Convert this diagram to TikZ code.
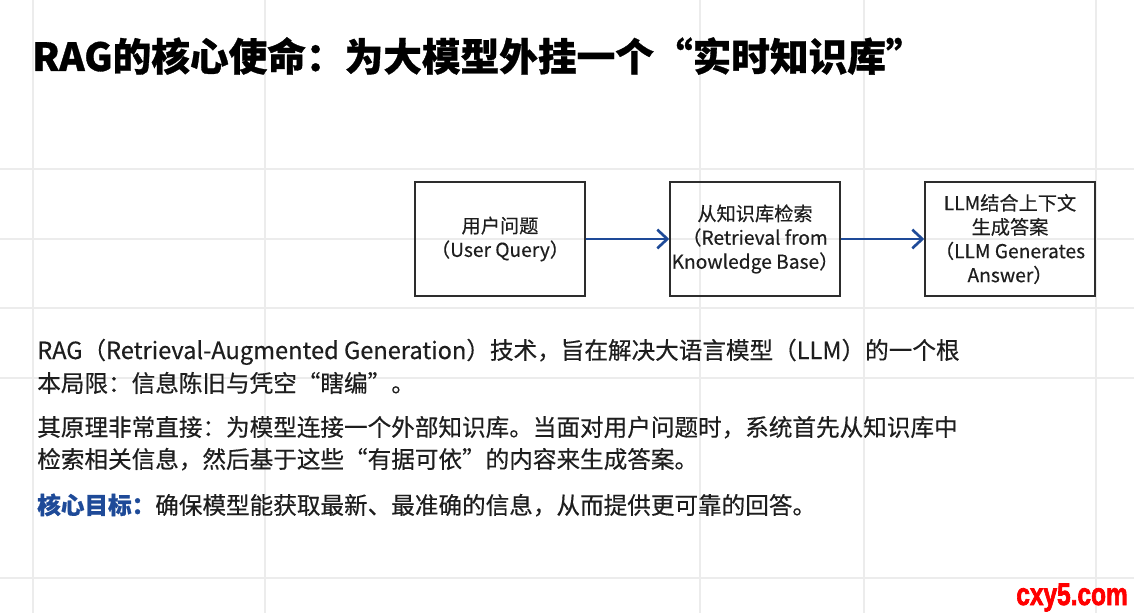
\documentclass[tikz,border=0pt]{standalone}
\usepackage{fontspec}
\setmainfont{Noto Sans CJK SC}[UprightFeatures={FakeBold=0.4},BoldFeatures={FakeBold=0.8}]
\newfontfamily\wmfont[BoldFeatures={FakeBold=2.5}]{Liberation Sans}
\usetikzlibrary{arrows.meta}
\definecolor{flowblue}{RGB}{30,74,152}
\definecolor{gridgray}{RGB}{236,236,236}
\definecolor{bodytext}{RGB}{30,30,30}
\definecolor{wmred}{RGB}{255,0,0}
\tikzset{
  gridline/.style={draw=gridgray,line width=1.1pt},
  stepbox/.style={draw={rgb,255:red,45;green,45;blue,45},line width=1.1pt,minimum width=127.5pt,minimum height=85.5pt,
    align=center,inner sep=0pt,text=bodytext,font=\fontsize{14.4}{18}\selectfont},
  flow/.style={draw=flowblue,line width=2pt,-{Straight Barb[length=7.5pt,width=14pt]}},
  bodyline/.style={anchor=base west,inner sep=0pt,text=bodytext,font=\fontsize{17.7}{22}\selectfont}
}
\begin{document}
\begin{tikzpicture}[x=0.75pt,y=0.75pt,yscale=-1]
%set diagram size to the reference
\useasboundingbox[fill=white] (0,0) rectangle (1134,613);

%Shape: Grid
\foreach \gx in {33,265,700,864,1096} \draw[gridline] (\gx,0) -- (\gx,613);
\foreach \gy in {169,239,308,378,578} \draw[gridline] (0,\gy) -- (1134,\gy);

% Text Node
\node[anchor=base west,inner sep=0pt,font=\bfseries\fontsize{29}{34}\selectfont] (title) at (32,71) {RAG的核心使命：为大模型外挂一个“实时知识库”};

%Shape: Rectangle
\node[stepbox] (query) at (500,239) {用户问题\\（User Query）};
%Shape: Rectangle
\node[stepbox] (retrieve) at (755,239) {从知识库检索\\（Retrieval from\\Knowledge Base）};
%Shape: Rectangle
\node[stepbox] (answer) at (1010,239) {LLM结合上下文\\生成答案\\（LLM Generates\\Answer）};

%Straight Lines
\draw[flow] (query) -- (retrieve);
\draw[flow] (retrieve) -- (answer);

% Text Node
\node[bodyline] (introa) at (37,359) {RAG（Retrieval-Augmented Generation）技术，旨在解决大语言模型（LLM）的一个根};
\node[bodyline] (introb) at (37,392) {本局限：信息陈旧与凭空“瞎编”。};
% Text Node
\node[bodyline] (ideaa) at (37,436) {其原理非常直接：为模型连接一个外部知识库。当面对用户问题时，系统首先从知识库中};
\node[bodyline] (ideab) at (37,468) {检索相关信息，然后基于这些“有据可依”的内容来生成答案。};
% Text Node
\node[bodyline] (goal) at (37,514) {{\bfseries\color{flowblue}核心目标：}确保模型能获取最新、最准确的信息，从而提供更可靠的回答。};

% Text Node
\node[anchor=base east,inner sep=0pt,text=wmred,font=\wmfont\bfseries\fontsize{23.5}{26}\selectfont] (mark) at (1128,605) {\scalebox{0.78}[1]{cxy5.com}};

\end{tikzpicture}
\end{document}
